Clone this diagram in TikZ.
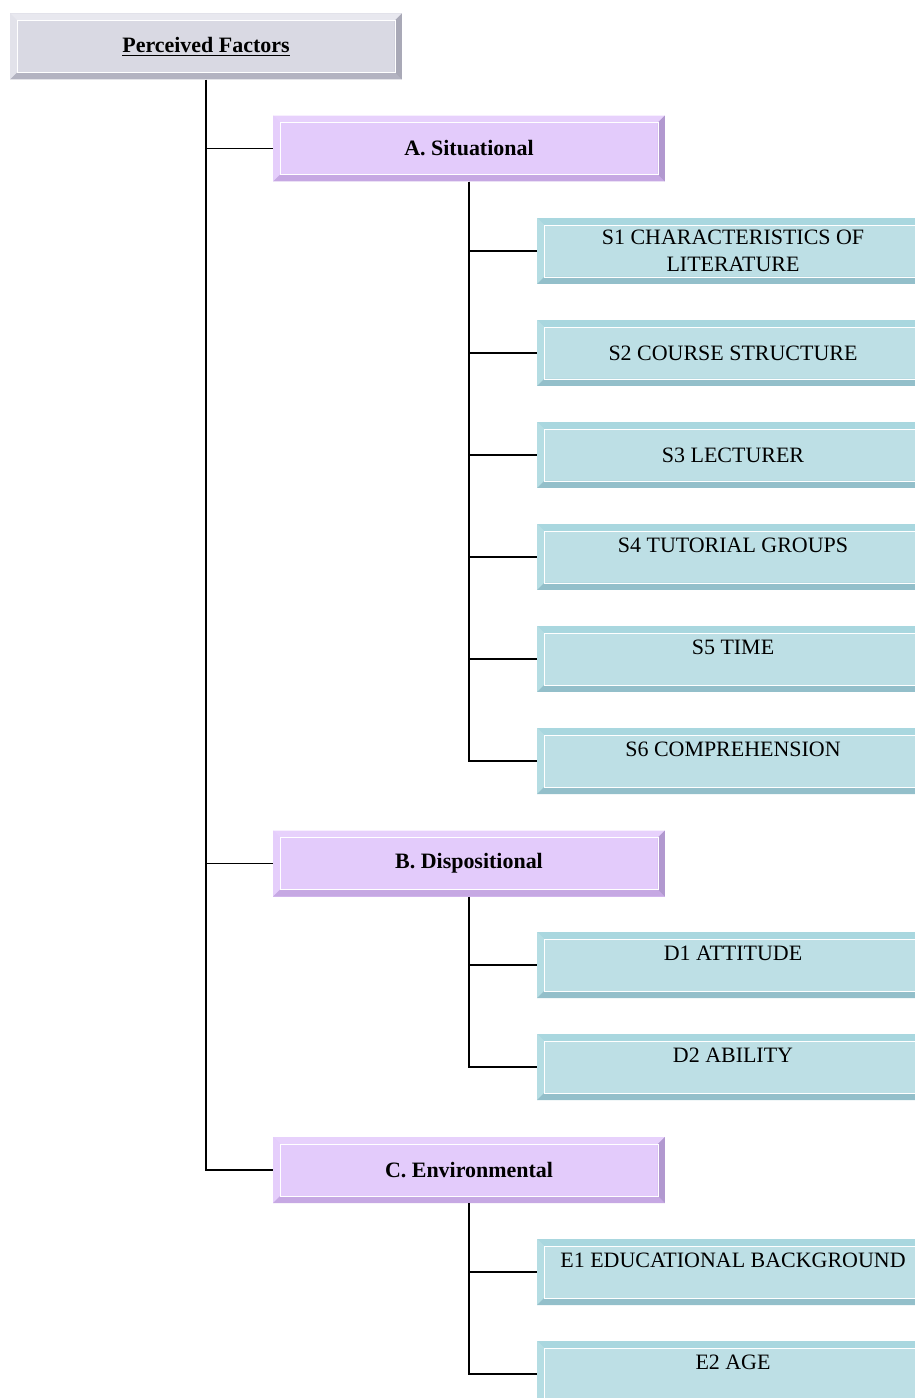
\documentclass[tikz,border=0pt]{standalone}
\usepackage{fontspec}
\setmainfont{Liberation Serif}
\usetikzlibrary{calc}

\definecolor{greyface}{HTML}{D9D9E3}
\definecolor{greytop}{HTML}{E8E8EF}
\definecolor{greyleft}{HTML}{E2E2EA}
\definecolor{greyright}{HTML}{A9A9B7}
\definecolor{greybot}{HTML}{B3B3C1}
\definecolor{lilface}{HTML}{E3CBFB}
\definecolor{liltop}{HTML}{E7D1FC}
\definecolor{lilleft}{HTML}{E5CEFB}
\definecolor{lilright}{HTML}{B198CF}
\definecolor{lilbot}{HTML}{C6A8E3}
\definecolor{tealface}{HTML}{BDDFE5}
\definecolor{tealtop}{HTML}{A9D7DF}
\definecolor{tealleft}{HTML}{B5DDE3}
\definecolor{tealright}{HTML}{8FBCC8}
\definecolor{tealbot}{HTML}{93BFCA}

\newcommand{\bevw}{0.14cm}
\newcommand{\boxfont}{\fontsize{12.5}{15}\selectfont}

\tikzset{
  bevel/.style n args={5}{fill=#1, minimum width=7.84cm, minimum height=1.32cm,
    inner sep=0pt, align=center, font=\boxfont,
    path picture={
      \path (path picture bounding box.north west) coordinate (bnw)
            (path picture bounding box.north east) coordinate (bne)
            (path picture bounding box.south west) coordinate (bsw)
            (path picture bounding box.south east) coordinate (bse);
      \fill[#2] (bnw) -- (bne) -- ($(bne)+(-\bevw,-\bevw)$) -- ($(bnw)+(\bevw,-\bevw)$) -- cycle;
      \fill[#3] (bnw) -- (bsw) -- ($(bsw)+(\bevw,\bevw)$) -- ($(bnw)+(\bevw,-\bevw)$) -- cycle;
      \fill[#5] (bsw) -- (bse) -- ($(bse)+(-\bevw,\bevw)$) -- ($(bsw)+(\bevw,\bevw)$) -- cycle;
      \fill[#4] (bne) -- (bse) -- ($(bse)+(-\bevw,\bevw)$) -- ($(bne)+(-\bevw,-\bevw)$) -- cycle;
      \draw[white, line width=0.5pt] ($(bnw)+(\bevw,-\bevw)$) rectangle ($(bse)+(-\bevw,\bevw)$);
    }},
  rootbox/.style={bevel={greyface}{greytop}{greyleft}{greyright}{greybot}, font=\boxfont\bfseries},
  groupbox/.style={bevel={lilface}{liltop}{lilleft}{lilright}{lilbot}, font=\boxfont\bfseries},
  itembox/.style={bevel={tealface}{tealtop}{tealleft}{tealright}{tealbot}},
  topitem/.style={itembox, minimum height=0pt, text height=0.56cm, text depth=0.76cm},
  link/.style={line width=0.9pt}
}

\begin{document}
\begin{tikzpicture}[x=0.02cm, y=-0.02cm]
  \useasboundingbox (0,0) rectangle (915,1398);
  \clip (0,0) rectangle (915,1398);

  \node[rootbox] (pf) at (206,46.5) {\underline{Perceived Factors}};

  \node[groupbox] (A) at (469,148.5) {A. Situational};
  \node[itembox] (s1) at (733,251) {S1 CHARACTERISTICS OF\\LITERATURE};
  \node[itembox] (s2) at (733,353) {S2 COURSE STRUCTURE};
  \node[itembox] (s3) at (733,455) {S3 LECTURER};
  \node[topitem] (s4) at (733,557) {S4 TUTORIAL GROUPS};
  \node[topitem] (s5) at (733,659) {S5 TIME};
  \node[topitem] (s6) at (733,761) {S6 COMPREHENSION};

  \node[groupbox] (B) at (469,863.5) {B. Dispositional};
  \node[topitem] (d1) at (733,965) {D1 ATTITUDE};
  \node[topitem] (d2) at (733,1067) {D2 ABILITY};

  \node[groupbox] (C) at (469,1170) {C. Environmental};
  \node[topitem] (e1) at (733,1272) {E1 EDUCATIONAL BACKGROUND};
  \node[topitem] (e2) at (733,1374) {E2 AGE};

  \foreach \g in {A,B,C}
    \draw[link] (pf.south) |- (\g.west);
  \foreach \c in {s1,s2,s3,s4,s5,s6}
    \draw[link] (A.south) |- (\c.west);
  \foreach \c in {d1,d2}
    \draw[link] (B.south) |- (\c.west);
  \foreach \c in {e1,e2}
    \draw[link] (C.south) |- (\c.west);
\end{tikzpicture}
\end{document}
